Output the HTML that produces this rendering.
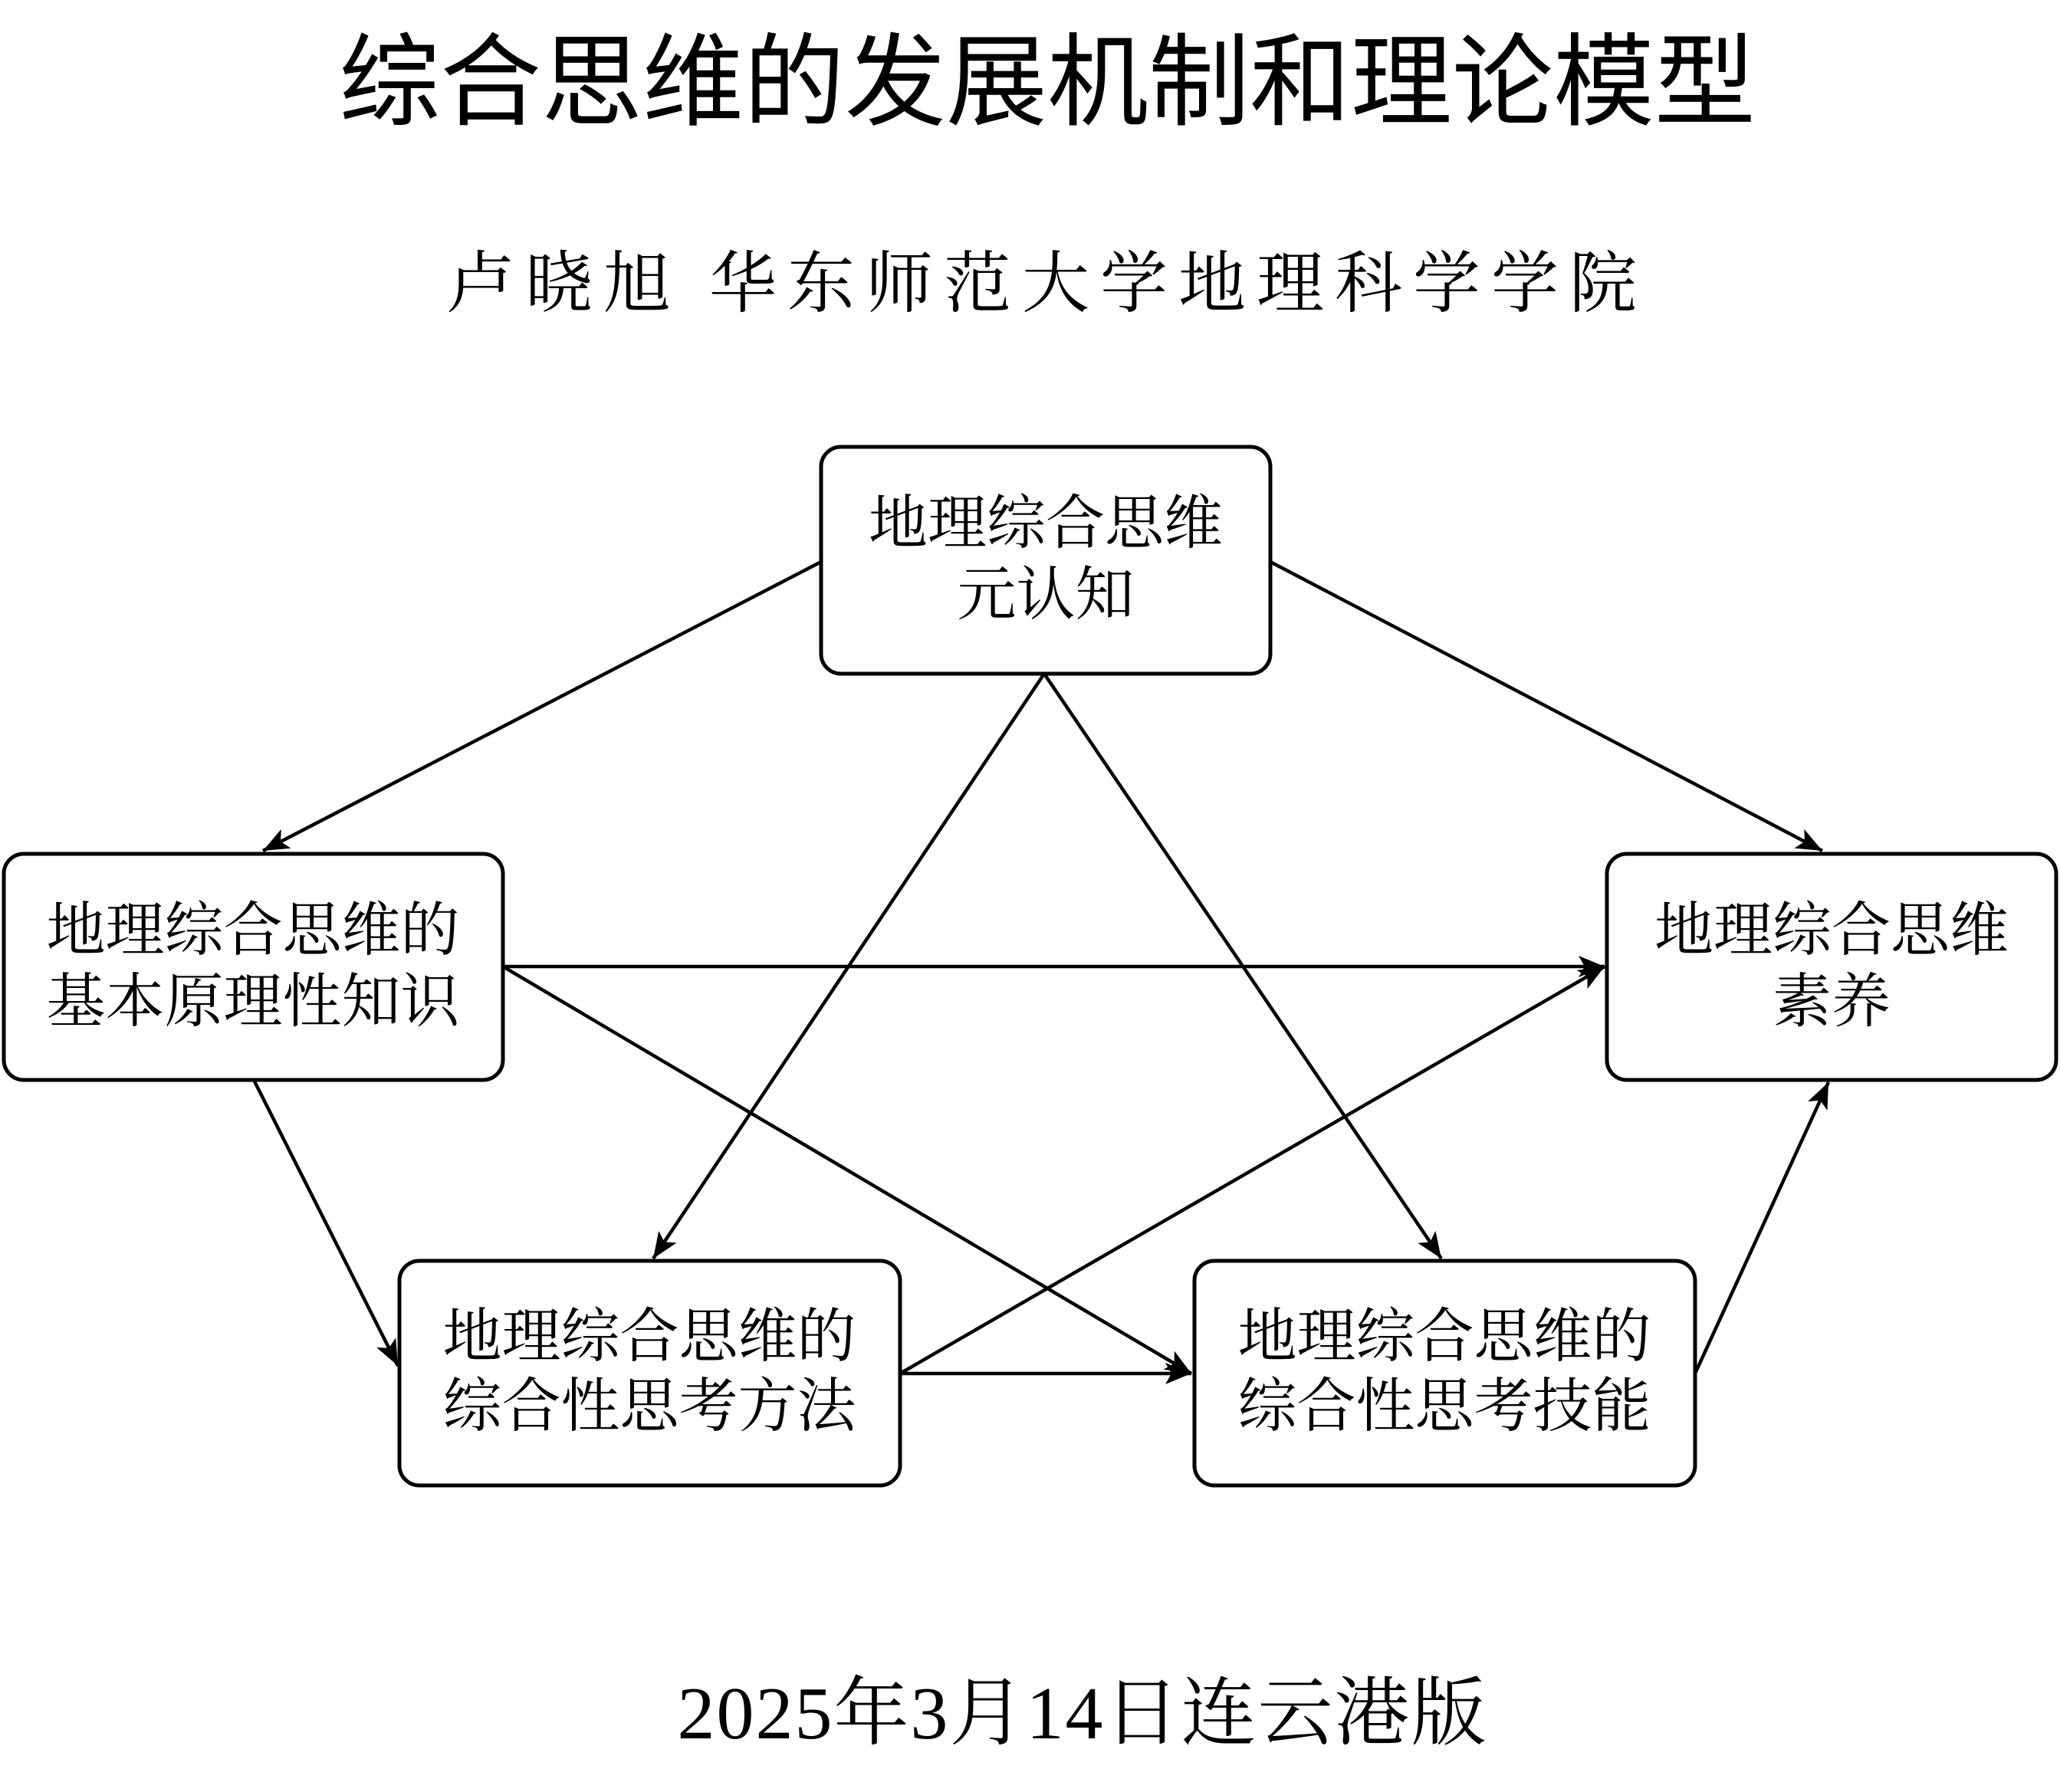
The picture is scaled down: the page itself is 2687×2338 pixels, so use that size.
<!DOCTYPE html>
<html><head><meta charset="utf-8"><style>
html,body{margin:0;padding:0;background:#fff;}
svg{display:block;}
.t{font-family:"Liberation Serif","Noto Serif CJK SC",serif;font-size:77px;fill:#000;text-anchor:middle;}
</style></head><body>
<svg width="2687" height="2338" viewBox="0 0 2687 2338" xmlns="http://www.w3.org/2000/svg">
<defs>
<marker id="a" markerUnits="userSpaceOnUse" markerWidth="40" markerHeight="30" refX="34" refY="14" orient="auto">
<path d="M0,0 L34,14 L0,28 L8,14 Z" fill="#000"/>
</marker>
</defs>
<text x="1366" y="153" text-anchor="middle" style="font-family:'Liberation Sans','Noto Sans CJK SC',sans-serif;font-size:132px;font-weight:400">综合思维的发展机制和理论模型</text>
<text x="1366" y="400" text-anchor="middle" style="font-family:'Liberation Serif','Noto Serif CJK SC',serif;font-size:88px;letter-spacing:14px">卢晓旭 华东师范大学地理科学学院</text>
<text x="1412" y="2268" text-anchor="middle" style="font-family:'Liberation Serif','Noto Serif CJK SC',serif;font-size:98px;letter-spacing:2px">2025年3月14日连云港版</text>
<g fill="#fff" stroke="#000" stroke-width="5">
<rect x="1071" y="583" width="586" height="296" rx="26"/>
<rect x="5" y="1114" width="651" height="295" rx="26"/>
<rect x="2096" y="1114" width="586" height="295" rx="26"/>
<rect x="521" y="1645" width="653" height="293" rx="26"/>
<rect x="1558" y="1645" width="653" height="293" rx="26"/>
</g>
<g stroke="#000" stroke-width="4.5" marker-end="url(#a)" fill="none">
<line x1="1071" y1="733" x2="343" y2="1110"/>
<line x1="1657" y1="733" x2="2377" y2="1110"/>
<line x1="1362" y1="879" x2="852" y2="1642"/>
<line x1="1362" y1="879" x2="1880" y2="1642"/>
<line x1="656" y1="1261" x2="2093" y2="1261"/>
<line x1="656" y1="1261" x2="1554" y2="1792"/>
<line x1="331" y1="1409" x2="519" y2="1782"/>
<line x1="1174" y1="1792" x2="2093" y2="1261"/>
<line x1="1174" y1="1792" x2="1554" y2="1792"/>
<line x1="2211" y1="1792" x2="2385" y2="1412"/>
</g>
<text class="t" x="1364" y="709">地理综合思维</text>
<text class="t" x="1364" y="802">元认知</text>
<text class="t" x="330" y="1240">地理综合思维的</text>
<text class="t" x="330" y="1333">基本原理性知识</text>
<text class="t" x="2389" y="1240">地理综合思维</text>
<text class="t" x="2389" y="1333">素养</text>
<text class="t" x="847" y="1770">地理综合思维的</text>
<text class="t" x="847" y="1861">综合性思考方法</text>
<text class="t" x="1884" y="1770">地理综合思维的</text>
<text class="t" x="1884" y="1861">综合性思考技能</text>
</svg>
</body></html>
